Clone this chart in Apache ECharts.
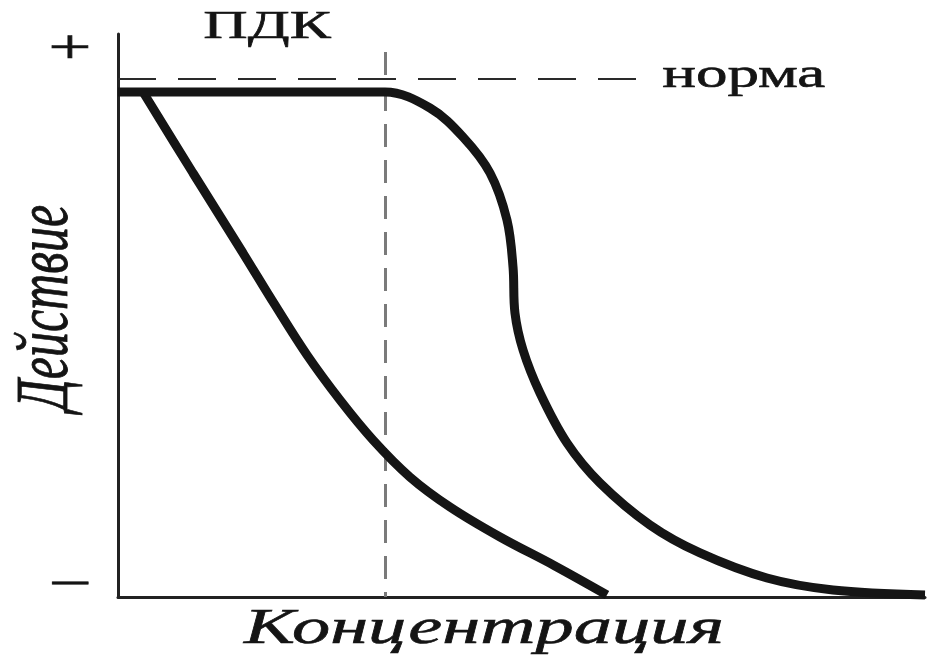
<!DOCTYPE html>
<html>
<head>
<meta charset="utf-8">
<script src="https://cdn.jsdelivr.net/npm/echarts@6/dist/echarts.min.js"></script>
<style>
html,body{margin:0;padding:0;background:#fff;}
#chart{width:929px;height:664px;}
</style>
</head>
<body>
<div id="chart"></div>
<script>
// Data (concentration 0–100, effect 0–100)
const curveAx = [3.10, 9.29, 15.49, 19.45, 23.42, 27.51, 31.60, 36.18, 41.14, 47.34, 54.15, 60.59];
const curveAy = [89.7, 75.31, 61.10, 51.87, 42.98, 34.99, 27.89, 21.31, 15.99, 10.66, 5.51, 0.36];
const curveBx = [0, 33.09, 38.66, 42.75, 46.10, 48.20, 48.95, 49.19, 50.19, 52.29, 55.64, 59.73, 65.92, 72.12, 80.42, 88.60, 100];
const curveBy = [89.7, 89.7, 86.86, 81.71, 75.31, 66.96, 58.61, 50.44, 43.87, 36.23, 27.35, 20.25, 12.79, 7.82, 3.37, 1.24, 0.36];
const normaLevel = 92.0;
const normaEndX = 64.9;
const pdkX = 33.09;
const pdkTop = 96.8;
const yTickLabels = ['−', '+'];
const yTickValues = [1.9, 97.0];
const xAxisTitle = 'Концентрация';
const yAxisTitle = 'Действие';
const normaText = 'норма';
const pdkText = 'ПДК';

const serifName = '"Liberation Serif", "DejaVu Serif", serif';
const zip = (xs, ys) => xs.map((x, i) => [x, ys[i]]);

const chart = echarts.init(document.getElementById('chart'));
chart.setOption({
  animation: false,
  grid: { left: 118, right: 4, top: 34, bottom: 67, containLabel: false, outerBoundsMode: 'none' },
  xAxis: {
    type: 'value', min: 0, max: 100,
    axisLine: { show: true, lineStyle: { color: '#222', width: 3 } },
    axisTick: { show: false }, axisLabel: { show: false }, splitLine: { show: false }
  },
  yAxis: {
    type: 'value', min: 0, max: 100,
    axisLine: { show: true, lineStyle: { color: '#222', width: 3 } },
    axisTick: { show: false }, axisLabel: { show: false }, splitLine: { show: false }
  },
  series: [
    {
      type: 'line', data: zip(curveAx, curveAy), smooth: 0.35, showSymbol: false,
      lineStyle: { color: '#151515', width: 9, cap: 'butt' }, z: 5
    },
    {
      type: 'line', data: zip(curveBx, curveBy), smooth: 0.35, showSymbol: false,
      lineStyle: { color: '#151515', width: 9, cap: 'butt' }, z: 5,
      markLine: {
        silent: true, symbol: 'none', label: { show: false },
        data: [
          [{ coord: [0, normaLevel], lineStyle: { color: '#2a2a2a', type: [38, 22], width: 2 } },
           { coord: [normaEndX, normaLevel] }],
          [{ coord: [pdkX, pdkTop], lineStyle: { color: '#7a7a7a', type: [23, 13], width: 3 } },
           { coord: [pdkX, 0] }]
        ]
      }
    }
  ]
});

const P = v => chart.convertToPixel({ gridIndex: 0 }, v);
const pNorma = P([normaEndX, normaLevel]);
const pPdk = P([pdkX, pdkTop]);

function txt(text, x, y, size, opts) {
  opts = opts || {};
  const font = (opts.italic ? 'italic ' : '') + size + 'px ' + serifName;
  const el = {
    type: 'text', x: x, y: y, z: 10,
    style: { text: text, font: font, fill: '#141414', stroke: '#141414', lineWidth: 0.6,
             textAlign: 'center', textVerticalAlign: 'middle' }
  };
  if (opts.rotate) { el.rotation = Math.PI / 2; el.scaleY = opts.stretch || 1.5; }
  else { el.scaleX = opts.stretch || 1.5; }
  return el;
}

const graphics = [
  txt(normaText, pNorma[0] + 102, pNorma[1] - 3, 42),
  txt(pdkText, pPdk[0] - 118, 27, 41),
  txt(xAxisTitle, 484, 630, 51, { italic: true }),
  txt(yAxisTitle, 47, 308, 50, { italic: true, rotate: true })
];
yTickValues.forEach((v, i) => {
  const p = P([0, v]);
  graphics.push(txt(yTickLabels[i], p[0] - 48, p[1], 48, { stretch: 1.6 }));
});
chart.setOption({ graphic: graphics });
</script>
</body>
</html>
